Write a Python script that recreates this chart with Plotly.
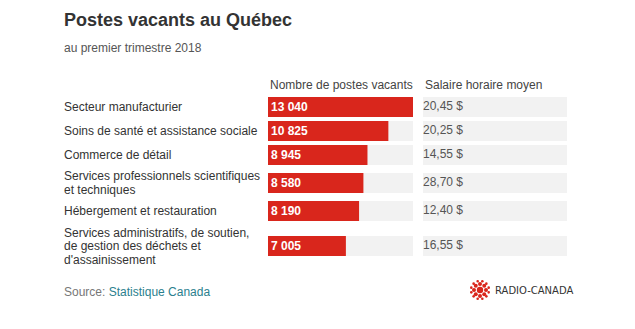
import math
import plotly.graph_objects as go

W, H = 635, 329

title = "Postes vacants au Québec"
subtitle = "au premier trimestre 2018"
header_postes = "Nombre de postes vacants"
header_salaire = "Salaire horaire moyen"
categories = [
    "Secteur manufacturier",
    "Soins de santé et assistance sociale",
    "Commerce de détail",
    "Services professionnels scientifiques<br>et techniques",
    "Hébergement et restauration",
    "Services administratifs, de soutien,<br>de gestion des déchets et<br>d'assainissement",
]
postes = [13040, 10825, 8945, 8580, 8190, 7005]
salaires = [20.45, 20.25, 14.55, 28.70, 12.40, 16.55]

RED = "#d9261c"
TRACK = "#f2f2f2"
FONT = "Liberation Sans, Arial, sans-serif"

# row layout (pixel units) from the number of label lines
ROW_H = {1: 24, 2: 32, 3: 46}
lines = [c.count("<br>") + 1 for c in categories]
centers = []
acc = 0
for n in lines:
    h = ROW_H[n]
    centers.append(acc + h / 2)
    acc += h
total = acc
TOP_PX = 95
BOT_PX = TOP_PX + total


def py(px):
    return 1 - px / H


def fmt_int(v):
    return f"{v:,}".replace(",", " ")


def fmt_money(v):
    return f"{v:.2f}".replace(".", ",") + " $"


fig = go.Figure()

vmax = max(postes)
fig.add_trace(go.Bar(
    x=[vmax] * len(postes), y=centers, orientation="h", width=20,
    marker=dict(color=TRACK, line=dict(width=0)), hoverinfo="skip",
    xaxis="x", yaxis="y",
))
fig.add_trace(go.Bar(
    x=postes, y=centers, orientation="h", width=20,
    marker=dict(color=RED, line=dict(width=0)),
    text=[fmt_int(v) for v in postes], textposition="inside",
    insidetextanchor="start", constraintext="none",
    textfont=dict(family=FONT, size=12, color="white", weight="bold"),
    xaxis="x", yaxis="y",
))
fig.add_trace(go.Scatter(
    x=[0] * len(salaires), y=centers, mode="text",
    text=[fmt_money(v) for v in salaires], textposition="middle right",
    textfont=dict(family=FONT, size=12, color="#555555"),
    xaxis="x2", yaxis="y", hoverinfo="skip",
))

shapes = []
for c in centers:
    shapes.append(dict(type="rect", xref="x2 domain", yref="y", x0=0, x1=1,
                       y0=c - 10, y1=c + 10, fillcolor=TRACK, line=dict(width=0),
                       layer="below"))

# Radio-Canada gem (approximation)
gx, gy = 480, 290


def circ(cx, cy, r):
    return dict(type="circle", xref="paper", yref="paper",
                x0=(cx - r) / W, x1=(cx + r) / W, y0=py(cy + r), y1=py(cy - r),
                fillcolor=RED, line=dict(width=0))


shapes.append(circ(gx, gy, 3.2))
for k in range(8):
    a = 2 * math.pi * k / 8
    shapes.append(circ(gx + 6 * math.cos(a), gy + 6 * math.sin(a), 2.0))
for k in range(12):
    a = 2 * math.pi * (k + 0.5) / 12
    shapes.append(circ(gx + 9 * math.cos(a), gy + 9 * math.sin(a), 1.3))

annotations = []
for c, cat in zip(centers, categories):
    parts = cat.split("<br>")
    n = len(parts)
    for i, p in enumerate(parts):
        off = (i - (n - 1) / 2) * 13.5
        annotations.append(dict(
            text=p, x=62 / W, xref="paper", y=c, yref="y", yshift=-off,
            xanchor="left", yanchor="middle", showarrow=False,
            font=dict(family=FONT, size=12, color="#333333"),
        ))

annotations += [
    dict(text=f"<b>{title}</b>", x=62 / W, y=py(20), xref="paper", yref="paper",
         xanchor="left", yanchor="middle", showarrow=False,
         font=dict(family=FONT, size=18, color="#333333")),
    dict(text=subtitle, x=62 / W, y=py(48), xref="paper", yref="paper",
         xanchor="left", yanchor="middle", showarrow=False,
         font=dict(family=FONT, size=12, color="#555555")),
    dict(text=header_postes, x=268 / W, y=py(85), xref="paper", yref="paper",
         xanchor="left", yanchor="middle", showarrow=False,
         font=dict(family=FONT, size=12, color="#444444")),
    dict(text=header_salaire, x=423 / W, y=py(85), xref="paper", yref="paper",
         xanchor="left", yanchor="middle", showarrow=False,
         font=dict(family=FONT, size=12, color="#444444")),
    dict(text="Source: <span style='color:#2b7f8e'>Statistique Canada</span>",
         x=62 / W, y=py(292), xref="paper", yref="paper",
         xanchor="left", yanchor="middle", showarrow=False,
         font=dict(family=FONT, size=12, color="#777777")),
    dict(text="RADIO-CANADA", x=493 / W, y=py(290), xref="paper", yref="paper",
         xanchor="left", yanchor="middle", showarrow=False,
         font=dict(family="DejaVu Sans, sans-serif", size=10, color="#333333")),
]

fig.update_layout(
    width=W, height=H, autosize=False,
    margin=dict(l=0, r=0, t=0, b=0),
    paper_bgcolor="white", plot_bgcolor="white",
    showlegend=False, barmode="overlay",
    xaxis=dict(domain=[268 / W, 413 / W], range=[0, vmax], visible=False,
               fixedrange=True),
    xaxis2=dict(domain=[423 / W, 567 / W], range=[0, 1], visible=False,
                anchor="y", fixedrange=True),
    yaxis=dict(domain=[py(BOT_PX), py(TOP_PX)], range=[total, 0], visible=False,
               fixedrange=True),
    shapes=shapes, annotations=annotations,
)

fig.write_html("out.html")
